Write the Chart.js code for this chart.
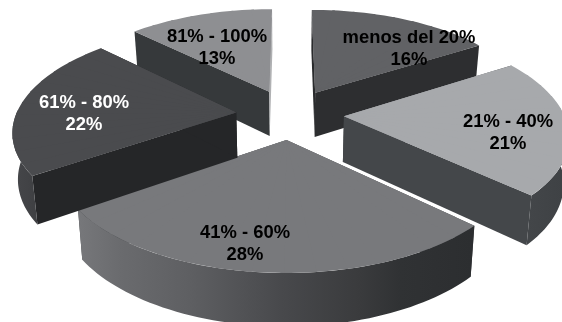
<!DOCTYPE html>
<html>
<head>
<meta charset="utf-8">
<style>
  html, body { margin: 0; padding: 0; background: #fff; overflow: hidden; }
  canvas { display: block; }
</style>
<script src="https://cdn.jsdelivr.net/npm/chart.js@4"></script>
</head>
<body>
<canvas id="pie" width="562" height="322"></canvas>
<script>
const categories = ["menos del 20%", "21% - 40%", "41% - 60%", "61% - 80%", "81% - 100%"];
const shares = [16, 21, 28, 22, 13];

const topColors = ["#616265", "#a7a9ac", "#78797c", "#4a4b4e", "#8e8f92"];
const startWallColors = ["#2a2b2d", "#44474a", "#44474a", "#252628", "#36393b"];
const endWallColors = ["#2d2e30", "#44474a", "#44474a", "#252628", "#b0b1b3"];
const textColors = ["#000", "#000", "#000", "#fff", "#000"];

// rim shading, left to right on screen: [x, colour]
const rimStops = [
  [[300, "#2d2e30"], [490, "#2d2e30"]],
  [[520, "#44474a"], [562, "#3f4245"]],
  [[77, "#77787b"], [120, "#6a6b6e"], [190, "#5e5f62"], [281, "#48494c"], [360, "#3a3b3d"], [400, "#303234"], [472, "#2c2e30"]],
  [[10, "#47484b"], [40, "#3e3f42"], [240, "#3a3b3d"]],
  [[130, "#36393b"], [280, "#36393b"]]
];

// far slices first so nearer ones cover them
const paintOrder = [4, 0, 2, 1, 3];
const labelSpots = [[409, 37], [508, 121], [245, 232], [84, 102], [217, 36]];

// camera for the tilted disc, twist is the lens swing on the left half
const view = { cx: 290, cy: 114, radius: 220, explode: 54, persp: 0.000726, tilt: 0.465, drop: 45.4, shrink: 0.02, twist: 0.03 };

function project(X, Y, z) {
  const w = 1 - view.persp * Y;
  const s = 1 - z * view.shrink;
  return { x: view.cx + X / w * s, y: view.cy + view.tilt * Y / w * s + z * view.drop / w };
}

function rimPoint(mid, angle, z) {
  const ax = Math.cos(mid) * view.explode;
  const ay = Math.sin(mid) * view.explode;
  if (angle === null) return project(ax, ay, z);
  const a = angle + view.twist * Math.max(0, -Math.cos(angle));
  return project(ax + Math.cos(a) * view.radius, ay + Math.sin(a) * view.radius, z);
}

function fillPoly(ctx, pts, fill) {
  ctx.beginPath();
  pts.forEach((p, i) => i ? ctx.lineTo(p.x, p.y) : ctx.moveTo(p.x, p.y));
  ctx.closePath();
  ctx.fillStyle = fill;
  ctx.fill();
}

function drawWalls(ctx, arc, i) {
  const { startAngle: a0, endAngle: a1 } = arc;
  const mid = (a0 + a1) / 2;

  const apexTop = rimPoint(mid, null, 0), apexBottom = rimPoint(mid, null, 1);
  fillPoly(ctx, [apexTop, rimPoint(mid, a0, 0), rimPoint(mid, a0, 1), apexBottom], startWallColors[i]);
  fillPoly(ctx, [apexTop, rimPoint(mid, a1, 0), rimPoint(mid, a1, 1), apexBottom], endWallColors[i]);

  // only the part of the rim that faces the viewer
  const top = [], bottom = [];
  const steps = 60;
  for (let n = 0; n <= steps; n++) {
    const a = a0 + (a1 - a0) * n / steps;
    if (Math.sin(a) < 0) continue;
    top.push(rimPoint(mid, a, 0));
    bottom.push(rimPoint(mid, a, 1));
  }
  if (top.length < 2) return;
  const stops = rimStops[i];
  const x0 = stops[0][0], x1 = stops[stops.length - 1][0];
  const grad = ctx.createLinearGradient(x0, 0, x1, 0);
  stops.forEach(s => grad.addColorStop((s[0] - x0) / (x1 - x0), s[1]));
  fillPoly(ctx, top.concat(bottom.reverse()), grad);
}

// draws the arc element with the transform that sends its b0..b1 part onto the rim points
function drawWedge(ctx, arc, mid, b0, b1, to, radiusScale) {
  const { outerRadius: r, x, y } = arc;
  const apex = rimPoint(mid, null, 0);
  const p0 = rimPoint(mid, b0, 0), p1 = rimPoint(mid, b1, 0);
  const sx0 = p0.x - apex.x, sy0 = p0.y - apex.y, sx1 = p1.x - apex.x, sy1 = p1.y - apex.y;
  const ex0 = r * Math.cos(b0), ey0 = r * Math.sin(b0), ex1 = r * Math.cos(b1), ey1 = r * Math.sin(b1);
  const det = ex0 * ey1 - ex1 * ey0;
  const a = (sx0 * ey1 - sx1 * ey0) / det;
  const c = (sx1 * ex0 - sx0 * ex1) / det;
  const b = (sy0 * ey1 - sy1 * ey0) / det;
  const d = (sy1 * ex0 - sy0 * ex1) / det;
  ctx.save();
  ctx.transform(a, b, c, d, apex.x - a * x - c * y, apex.y - b * x - d * y);
  arc.startAngle = b0;
  arc.endAngle = to;
  arc.outerRadius = r * radiusScale;
  arc.draw(ctx);
  arc.outerRadius = r;
  ctx.restore();
}

// canvas transforms are affine only, so the top face goes through in narrow
// wedges; a smaller whole slice underneath keeps the point solid where they meet
function drawTop(ctx, arc) {
  const { startAngle: a0, endAngle: a1 } = arc;
  const mid = (a0 + a1) / 2;
  drawWedge(ctx, arc, mid, a0, a1, a1, 0.9);
  const pieces = Math.ceil((a1 - a0) / 0.12);
  for (let n = 0; n < pieces; n++) {
    const b0 = a0 + (a1 - a0) * n / pieces;
    const b1 = a0 + (a1 - a0) * (n + 1) / pieces;
    drawWedge(ctx, arc, mid, b0, b1, n === pieces - 1 ? b1 : b1 + 0.015, 1);
  }
  arc.startAngle = a0;
  arc.endAngle = a1;
}

const tiltedPie = {
  id: "tiltedPie",
  beforeDatasetsDraw(chart) {
    const ctx = chart.ctx;
    const arcs = chart.getDatasetMeta(0).data;
    paintOrder.forEach(i => {
      drawWalls(ctx, arcs[i], i);
      drawTop(ctx, arcs[i]);
    });
    return false;
  },
  afterDraw(chart) {
    const ctx = chart.ctx;
    ctx.save();
    ctx.font = 'bold 18.4px "Liberation Sans", Arial, sans-serif';
    ctx.textAlign = "center";
    ctx.textBaseline = "middle";
    categories.forEach((name, i) => {
      ctx.fillStyle = textColors[i];
      ctx.fillText(name, labelSpots[i][0], labelSpots[i][1] + 1);
      ctx.fillText(shares[i] + "%", labelSpots[i][0], labelSpots[i][1] + 23);
    });
    ctx.restore();
  }
};

new Chart(document.getElementById("pie").getContext("2d"), {
  type: "pie",
  data: {
    labels: categories,
    datasets: [{ data: shares, backgroundColor: topColors, borderWidth: 0, hoverOffset: 0 }]
  },
  options: {
    responsive: false,
    animation: false,
    events: [],
    plugins: { legend: { display: false }, tooltip: { enabled: false } }
  },
  plugins: [tiltedPie]
});
</script>
</body>
</html>
